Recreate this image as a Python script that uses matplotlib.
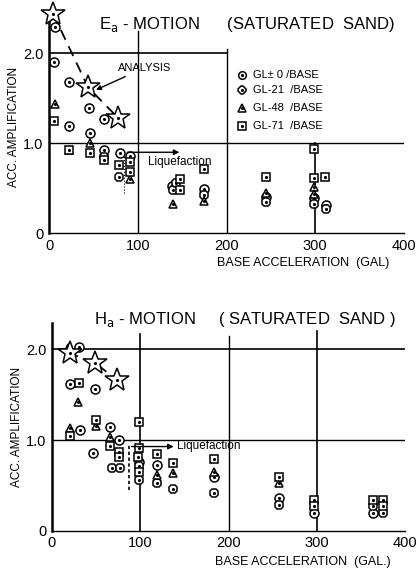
import matplotlib
matplotlib.use("Agg")
import matplotlib.pyplot as plt

plt.rcParams['font.family'] = ['Liberation Sans', 'DejaVu Sans']

# ---- E-motion (upper panel) ----
e_gl0_x = [7, 6, 22, 45, 62, 22, 46, 62, 80, 91, 139, 175, 244, 299, 312]
e_gl0_y = [2.29, 1.90, 1.68, 1.39, 1.27, 1.19, 1.11, 0.93, 0.89, 0.86, 0.53, 0.49, 0.40, 0.39, 0.31]
e_gl21_x = [62, 79, 140, 143, 175, 244, 299, 312]
e_gl21_y = [0.85, 0.63, 0.48, 0.56, 0.42, 0.35, 0.32, 0.27]
e_gl48_x = [7, 22, 46, 91, 140, 175, 244, 299, 299]
e_gl48_y = [1.44, 0.92, 1.00, 0.60, 0.33, 0.36, 0.45, 0.51, 0.44]
e_gl71_x = [6, 22, 46, 62, 79, 91, 91, 148, 148, 175, 244, 299, 299, 311]
e_gl71_y = [1.25, 0.93, 0.89, 0.81, 0.76, 0.79, 0.68, 0.60, 0.48, 0.71, 0.62, 0.94, 0.61, 0.63]
e_star_x = [4.5, 44, 78]
e_star_y = [2.44, 1.62, 1.28]

# ---- H-motion (lower panel) ----
h_gl0_x = [31, 20, 49, 32, 66, 76, 47, 99, 119, 184, 257, 297, 364]
h_gl0_y = [2.03, 1.62, 1.56, 1.11, 1.14, 1.00, 0.86, 0.76, 0.73, 0.59, 0.36, 0.20, 0.20]
h_gl21_x = [68, 77, 99, 99, 119, 137, 184, 257, 364, 375]
h_gl21_y = [0.69, 0.69, 0.71, 0.56, 0.53, 0.46, 0.42, 0.29, 0.27, 0.20]
h_gl48_x = [18, 30, 50, 20, 66, 119, 137, 184, 257]
h_gl48_y = [2.02, 1.42, 1.16, 1.13, 1.03, 0.62, 0.64, 0.65, 0.53]
h_gl71_x = [31, 50, 20, 66, 76, 76, 99, 99, 97, 99, 119, 137, 184, 257, 297, 297, 364, 375, 375]
h_gl71_y = [1.63, 1.22, 1.05, 0.94, 0.87, 0.82, 1.20, 0.91, 0.82, 0.65, 0.85, 0.75, 0.79, 0.59,
            0.34, 0.27, 0.34, 0.34, 0.27]
h_star_x = [20, 49, 74]
h_star_y = [1.96, 1.85, 1.66]

legend_labels = ['GL\u00b1 0 /BASE', 'GL-21  /BASE', 'GL-48  /BASE', 'GL-71  /BASE']
markers = ['o', '8', '^', 's']


def dotted(ax, x, y, m, ms=6.5, **kw):
    ax.plot(x, y, m, ms=ms, mfc='white', mec='black', mew=1.1, ls='none', **kw)
    ax.plot(x, y, '.', ms=2.5, color='black', ls='none', **kw)


def base_axes(ax, ytop):
    ax.set_xlim(0, 400)
    ax.set_ylim(0, ytop)
    for s in ['top', 'right']:
        ax.spines[s].set_visible(False)
    ax.spines['left'].set_linewidth(1.8)
    ax.spines['bottom'].set_linewidth(1.0)
    ax.set_xticks([0, 100, 200, 300, 400])
    ax.set_xticklabels(['0', '100', '200', '300', '400'])
    ax.set_yticks([0, 1.0, 2.0])
    ax.set_yticklabels(['0', '1.0', '2.0'])
    ax.tick_params(length=0, labelsize=10.5, pad=4)
    ax.set_ylabel('ACC. AMPLIFICATION', fontsize=8.5, labelpad=2)


fig = plt.figure(figsize=(4.16, 5.69), dpi=100)
ax1 = fig.add_axes([0.118, 0.590, 0.853, 0.375])
ax2 = fig.add_axes([0.125, 0.067, 0.849, 0.365])

# upper panel
base_axes(ax1, 2.37)
ax1.plot([0, 400], [1, 1], color='black', lw=1.0)
ax1.plot([0, 200], [2, 2], color='black', lw=1.2)
ax1.plot([100, 100], [0, 2.25], color='black', lw=1.0)
ax1.plot([200, 200], [0, 2.05], color='black', lw=1.0)
ax1.plot([300, 300], [0, 1.0], color='black', lw=1.2)

dotted(ax1, e_gl0_x, e_gl0_y, markers[0])
dotted(ax1, e_gl21_x, e_gl21_y, markers[1])
dotted(ax1, e_gl48_x, e_gl48_y, markers[2], ms=6)
dotted(ax1, e_gl71_x, e_gl71_y, markers[3], ms=6)

ax1.plot(e_star_x, e_star_y, color='black', lw=1.3, ls=(0, (6, 4)), zorder=3)
dotted(ax1, e_star_x, e_star_y, '*', ms=18, zorder=4, clip_on=False)

ax1.annotate('ANALYSIS', xy=(50, 1.58), xytext=(78, 1.84), fontsize=8,
             va='center', arrowprops=dict(arrowstyle='-|>', color='black', lw=1.0,
                                          mutation_scale=7))
ax1.plot([85, 85], [0.45, 0.92], color='black', lw=0.8, ls=':')
ax1.annotate('', xy=(150, 0.9), xytext=(85, 0.9),
             arrowprops=dict(arrowstyle='-|>', color='black', lw=1.0, mutation_scale=8))
ax1.text(111, 0.79, 'Liquefaction', fontsize=8.5, va='center', ha='left')

ax1.text(0.14, 0.98, 'E$_{\\rm a}$ - MOTION      (SATURATED  SAND)', transform=ax1.transAxes,
         fontsize=12, ha='left', va='center')
ax1.text(0.96, -0.14, 'BASE ACCELERATION  (GAL)', transform=ax1.transAxes,
         fontsize=9, ha='right', va='center')

# legend rows
leg_y = [0.744, 0.672, 0.589, 0.505]
for lab, m, ly in zip(legend_labels, markers, leg_y):
    dotted(ax1, [0.545], [ly], m, ms=5.5, transform=ax1.transAxes, clip_on=False)
    ax1.text(0.575, ly, lab, transform=ax1.transAxes, fontsize=8, va='center', ha='left')

# lower panel
base_axes(ax2, 2.29)
ax2.plot([0, 400], [1, 1], color='black', lw=1.0)
ax2.plot([0, 400], [2, 2], color='black', lw=1.2)
ax2.plot([100, 100], [0, 2.17], color='black', lw=1.2)
ax2.plot([200, 200], [0, 2.15], color='black', lw=1.0)
ax2.plot([300, 300], [0, 2.2], color='black', lw=1.2)

dotted(ax2, h_gl0_x, h_gl0_y, markers[0])
dotted(ax2, h_gl21_x, h_gl21_y, markers[1])
dotted(ax2, h_gl48_x, h_gl48_y, markers[2], ms=6)
dotted(ax2, h_gl71_x, h_gl71_y, markers[3], ms=6)

ax2.plot(h_star_x, h_star_y, color='black', lw=1.3, ls=(0, (5, 4)), zorder=3)
dotted(ax2, h_star_x, h_star_y, '*', ms=18, zorder=4)

ax2.plot([87, 87], [0.45, 0.95], color='black', lw=1.2, ls=(0, (2, 1.5)))
ax2.annotate('', xy=(141, 0.93), xytext=(87, 0.93),
             arrowprops=dict(arrowstyle='-|>', color='black', lw=1.0, mutation_scale=8))
ax2.text(142, 0.94, 'Liquefaction', fontsize=8.5, va='center', ha='left')

ax2.text(0.12, 1.02, 'H$_{\\rm a}$ - MOTION     ( SATURATED  SAND )', transform=ax2.transAxes,
         fontsize=12, ha='left', va='center')
ax2.text(0.96, -0.15, 'BASE ACCELERATION  (GAL.)', transform=ax2.transAxes,
         fontsize=9, ha='right', va='center')

fig.savefig('out.png', dpi=100)
